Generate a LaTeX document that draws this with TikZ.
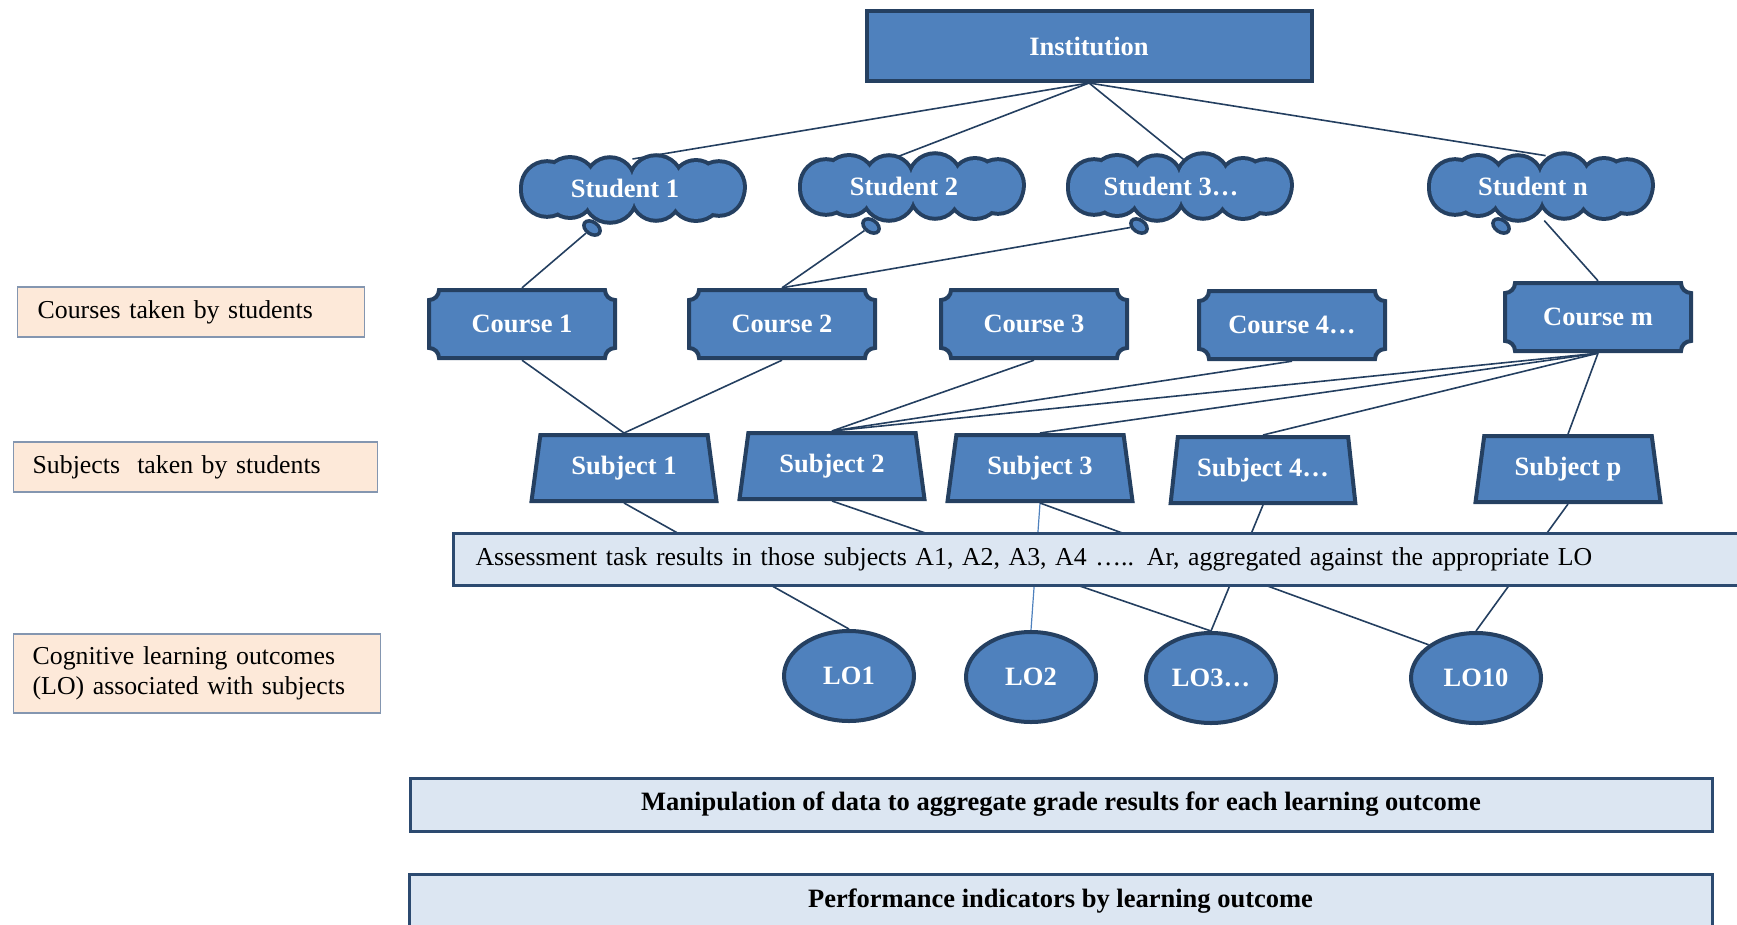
\documentclass[tikz,border=0pt]{standalone}
\usepackage{fontspec}
\setmainfont{Liberation Serif}
\usetikzlibrary{shapes.geometric,calc}

\definecolor{boxblue}{HTML}{4F81BD}
\definecolor{edgeblue}{HTML}{254061}
\definecolor{linkblue}{HTML}{243F60}
\definecolor{peach}{HTML}{FDE9D9}
\definecolor{peachedge}{HTML}{8496B0}
\definecolor{barfill}{HTML}{DCE6F2}
\definecolor{baredge}{HTML}{2C4A70}

\pgfdeclarelayer{links}
\pgfsetlayers{links,main}

\tikzset{
  shapetext/.style={font=\fontsize{26.5}{30}\selectfont\bfseries, text=white},
  plaintext/.style={font=\fontsize{25.8}{30}\selectfont, text=black},
  instbox/.style={rectangle, draw=edgeblue, line width=4, fill=boxblue,
    minimum width=445, minimum height=70, shapetext},
  studnode/.style={ellipse, minimum width=236, minimum height=69, inner sep=0, shapetext},
  puffline/.style={draw=edgeblue, line width=8, fill=boxblue},
  pufffill/.style={fill=boxblue},
  tailbub/.style={ellipse, draw=edgeblue, line width=3.5, fill=boxblue,
    minimum width=18, minimum height=12, inner sep=0, rotate=-35},
  plaque/.style={rectangle, minimum width=190, minimum height=72, inner sep=0, shapetext,
    path picture={
      \draw[fill=boxblue, draw=edgeblue, line width=4]
        let \p1=($(path picture bounding box.south west)+(2,2)$),
            \p2=($(path picture bounding box.north east)+(-2,-2)$) in
        (\x1+10,\y2) -- (\x2-10,\y2) arc[start angle=180,end angle=270,radius=10]
        -- (\x2,\y1+10) arc[start angle=90,end angle=180,radius=10]
        -- (\x1+10,\y1) arc[start angle=0,end angle=90,radius=10]
        -- (\x1,\y2-10) arc[start angle=270,end angle=360,radius=10] -- cycle;
    }},
  subjbox/.style={trapezium, trapezium stretches=true, trapezium left angle=77,
    trapezium right angle=77, minimum width=185, minimum height=66, inner sep=0,
    draw=edgeblue, line width=4, fill=boxblue, shapetext},
  lobox/.style={ellipse, minimum width=130, minimum height=90, inner sep=0,
    draw=edgeblue, line width=4, fill=boxblue, shapetext},
  link/.style={draw=linkblue, line width=1.6},
  lightlink/.style={draw=boxblue, line width=1.2},
  lbl/.style={rectangle, anchor=west, draw=peachedge, line width=1.3, fill=peach,
    align=left, plaintext},
  bar/.style={rectangle, draw=baredge, line width=3, fill=barfill},
}

% puffy cloud: a ring of overlapping circles; the wide stroke of the first
% pass is half hidden by the second, plain fill
\newcommand\puffcloud[2]{%
  \begin{scope}[shift={(#1,#2)}]
    \foreach \t/\r in {15/24,45/22,75/25,105/23,135/25,165/24,195/24,225/22,255/25,285/23,315/25,345/23}
      \path[puffline] ({89*cos(\t)},{7*sin(\t)}) circle[radius=\r];
    \foreach \t/\r in {15/24,45/22,75/25,105/23,135/25,165/24,195/24,225/22,255/25,285/23,315/25,345/23}
      \path[pufffill] ({89*cos(\t)},{7*sin(\t)}) circle[radius=\r];
  \end{scope}}

\begin{document}
\begin{tikzpicture}[x=1pt,y=1pt]
\useasboundingbox (0,0) rectangle (1737,-924);
\clip (0,0) rectangle (1737,-924);

% top of the hierarchy
\node[instbox] (inst) at (1089,-46) {Institution};

% students
\puffcloud{633}{-189}
\puffcloud{912}{-187}
\puffcloud{1180}{-187}
\puffcloud{1541}{-187}
\node[studnode] (st1) at (625,-188) {Student 1};
\node[studnode] (st2) at (904,-186) {Student 2};
\node[studnode] (st3) at (1171,-186) {Student 3…};
\node[studnode] (stn) at (1533,-186) {Student n};
\node[tailbub] (t1) at (592,-228) {};
\node[tailbub] (t2) at (871,-226) {};
\node[tailbub] (t3) at (1139,-226) {};
\node[tailbub] (tn) at (1501,-226) {};

% courses
\node[plaque] (c1) at (522,-324) {Course 1};
\node[plaque] (c2) at (782,-324) {Course 2};
\node[plaque] (c3) at (1034,-324) {Course 3};
\node[plaque] (c4) at (1292,-325) {Course 4…};
\node[plaque] (cm) at (1598,-317) {Course m};

% subjects
\node[subjbox] (s1) at (624,-468) {Subject 1};
\node[subjbox] (s2) at (832,-466) {Subject 2};
\node[subjbox] (s3) at (1040,-468) {Subject 3};
\node[subjbox] (s4) at (1263,-470) {Subject 4…};
\node[subjbox] (sp) at (1568,-469) {Subject p};

% learning outcomes
\node[lobox] (lo1) at (849,-676) {LO1};
\node[lobox] (lo2) at (1031,-677) {LO2};
\node[lobox] (lo3) at (1211,-678) {LO3…};
\node[lobox] (lo10) at (1476,-678) {LO10};

\begin{pgfonlayer}{links}
% institution to students (run on under the cloud outline)
\draw[link] (inst.south) -- ($(inst.south)!1.06!(st1.45)$);
\draw[link] (inst.south) -- ($(inst.south)!1.12!(st2.78)$);
\draw[link] (inst.south) -- ($(inst.south)!1.12!(st3.86)$);
\draw[link] (inst.south) -- ($(inst.south)!1.06!(stn.111)$);

% students to courses
\draw[link] (c1.north) -- (t1);
\draw[link] (c2.north) -- (t2);
\draw[link] (c2.north) -- (t3);
\draw[link] (stn.288) -- (cm.north);

% courses to subjects
\draw[link] (c1.south) -- (s1.north);
\draw[link] (c2.south) -- (s1.north);
\draw[link] (c3.south) -- (s2.north);
\draw[link] (c4.south) -- (s2.north);
\draw[link] (cm.south) -- (s2.north);
\draw[link] (cm.south) -- (s3.north);
\draw[link] (cm.south) -- (s4.north);
\draw[link] (cm.south) -- (sp.north);

% subjects to learning outcomes (passing behind the assessment bar)
\draw[link] (s1.south) -- (lo1.north);
\draw[link] (s2.south) -- (lo3.north);
\draw[lightlink] (s3.south) -- (lo2.north);
\draw[link] (s3.south) -- (lo10.north west);
\draw[link] (s4.south) -- (lo3.north);
\draw[link] (sp.south) -- (lo10.north);
\end{pgfonlayer}

% assessment bar
\node[bar, anchor=west, minimum height=52, text width=1300, inner xsep=22, align=left,
  plaintext] (abar) at (452,-559)
  {Assessment task results in those subjects A1, A2, A3, A4 ….. Ar, aggregated against the appropriate LO};

% processing and output bars
\node[bar, minimum width=1302, minimum height=53, plaintext, font=\fontsize{26.5}{30}\selectfont\bfseries]
  (mbar) at (1061,-804.5) {Manipulation of data to aggregate grade results for each learning outcome};
\node[bar, minimum width=1303, minimum height=54, plaintext, font=\fontsize{26.5}{30}\selectfont\bfseries]
  (pbar) at (1060.5,-901) {Performance indicators by learning outcome};

% level labels
\node[lbl, minimum height=50, text width=307, inner xsep=20] (lcourse) at (17,-312)
  {Courses taken by students};
\node[lbl, minimum height=50, text width=326, inner xsep=19] (lsubj) at (13,-467)
  {Subjects\ \ taken by students};
\node[lbl, minimum height=79, text width=329, inner xsep=19] (lout) at (13,-673.5)
  {Cognitive learning outcomes\\(LO) associated with subjects};
\end{tikzpicture}
\end{document}
